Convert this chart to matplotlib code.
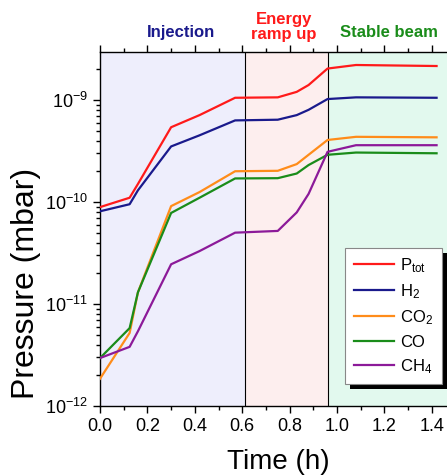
import numpy as np
import matplotlib
matplotlib.use("Agg")
import matplotlib.pyplot as plt
from matplotlib.patches import Rectangle
from matplotlib.ticker import LogLocator, MultipleLocator, FuncFormatter

plt.rcParams['font.family'] = ['Liberation Sans', 'DejaVu Sans']
plt.rcParams['mathtext.fontset'] = 'custom'
plt.rcParams['mathtext.rm'] = 'Liberation Sans'
plt.rcParams['mathtext.it'] = 'Liberation Sans:italic'

# time (h)
TIME = [0.0, 0.125, 0.16, 0.30, 0.42, 0.57, 0.75, 0.83, 0.88, 0.96, 1.08, 1.42]
P_TOT = [8.9e-11, 1.1e-10, 1.5e-10, 5.4e-10, 7.1e-10, 1.05e-9, 1.06e-9,
         1.2e-9, 1.4e-9, 2.03e-9, 2.2e-9, 2.15e-9]
H2 = [8.1e-11, 9.5e-11, 1.3e-10, 3.5e-10, 4.5e-10, 6.3e-10, 6.4e-10,
      7.1e-10, 8.0e-10, 1.02e-9, 1.06e-9, 1.05e-9]
CO2 = [1.85e-12, 5.2e-12, 1.3e-11, 9.1e-11, 1.25e-10, 2.0e-10, 2.02e-10,
       2.35e-10, 2.9e-10, 4.05e-10, 4.35e-10, 4.3e-10]
CO = [2.95e-12, 5.8e-12, 1.3e-11, 7.8e-11, 1.1e-10, 1.7e-10, 1.71e-10,
      1.9e-10, 2.3e-10, 2.9e-10, 3.05e-10, 3.0e-10]
CH4 = [2.95e-12, 3.8e-12, 5.4e-12, 2.45e-11, 3.3e-11, 5.0e-11, 5.2e-11,
       7.9e-11, 1.2e-10, 3.1e-10, 3.6e-10, 3.6e-10]

SERIES = [(P_TOT, r'P$_{\rm tot}$', '#ff1a1a'),
          (H2, r'H$_{2}$', '#1a1a8c'),
          (CO2, r'CO$_{2}$', '#ff8c1a'),
          (CO, 'CO', '#1a8c1a'),
          (CH4, r'CH$_{4}$', '#8c1a99')]

PHASES = [(0.0, 0.61, '#eeeefc', 'Injection', '#1a1a8c', 0.34, 1.055),
          (0.61, 0.96, '#fdeeee', 'Energy\nramp up', '#ff1a1a', 0.775, 1.07),
          (0.96, 1.47, '#e2f9ee', 'Stable beam', '#1a8c1a', 1.22, 1.055)]

fig = plt.figure(figsize=(4.47, 4.76), dpi=100)
ax = fig.add_axes([100 / 447, 70 / 476, 347 / 447, 354 / 476])

xmax = 1.464
for x0, x1, bg, name, col, tx, ty in PHASES:
    ax.axvspan(x0, x1, color=bg, zorder=0, lw=0)
    ax.text(tx, ty, name, transform=ax.get_xaxis_transform(), ha='center',
            va='center', fontsize=12, fontweight='bold', color=col,
            linespacing=1.0)
for xv in [0.61, 0.96]:
    ax.axvline(xv, color='black', lw=0.8, zorder=1)

for vals, lab, col in SERIES:
    ax.plot(TIME, vals, color=col, lw=1.6, label=lab, zorder=3)

ax.set_yscale('log')
ax.set_ylim(1e-12, 2.95e-9)
ax.set_xlim(0, xmax)

ax.xaxis.set_major_locator(MultipleLocator(0.2))
ax.xaxis.set_minor_locator(MultipleLocator(0.1))
ax.xaxis.set_major_formatter(FuncFormatter(lambda v, p: f'{v:.1f}'))
ax.yaxis.set_major_locator(LogLocator(base=10, numticks=10))
ax.yaxis.set_minor_locator(LogLocator(base=10, subs=np.arange(2, 10), numticks=10))
ax.yaxis.set_major_formatter(FuncFormatter(
    lambda v, p: r'10$^{%d}$' % int(round(np.log10(v)))))

ax.tick_params(axis='both', which='major', direction='out', length=5,
               width=1, labelsize=13, top=True)
ax.tick_params(axis='both', which='minor', direction='out', length=3,
               width=1, top=True)
ax.tick_params(axis='x', which='both', labeltop=False)
ax.spines['right'].set_visible(False)
for s in ['left', 'top', 'bottom']:
    ax.spines[s].set_linewidth(1)

ax.set_xlabel('Time (h)', fontsize=20)
ax.set_ylabel('Pressure (mbar)', fontsize=23, va='center')
ax.xaxis.set_label_coords(0.513, -0.122)
ax.yaxis.set_label_coords(-0.213, 0.345)

leg = ax.legend(loc='lower right', bbox_to_anchor=(0.985, 0.062), fontsize=12,
                frameon=True, fancybox=False, borderaxespad=0,
                handlelength=2.4, handletextpad=0.4, labelspacing=0.45,
                borderpad=0.5, edgecolor='#888888', framealpha=1)
leg.get_frame().set_linewidth(0.8)
leg.set_zorder(6)

# black drop shadow under the legend box
fig.canvas.draw()
bb = leg.get_window_extent()
ax.add_patch(Rectangle((bb.x0 + 5, bb.y0 - 5), bb.width, bb.height,
                       transform=None, facecolor='black', edgecolor='none',
                       zorder=5, clip_on=False))

fig.savefig('out.png', dpi=100)
